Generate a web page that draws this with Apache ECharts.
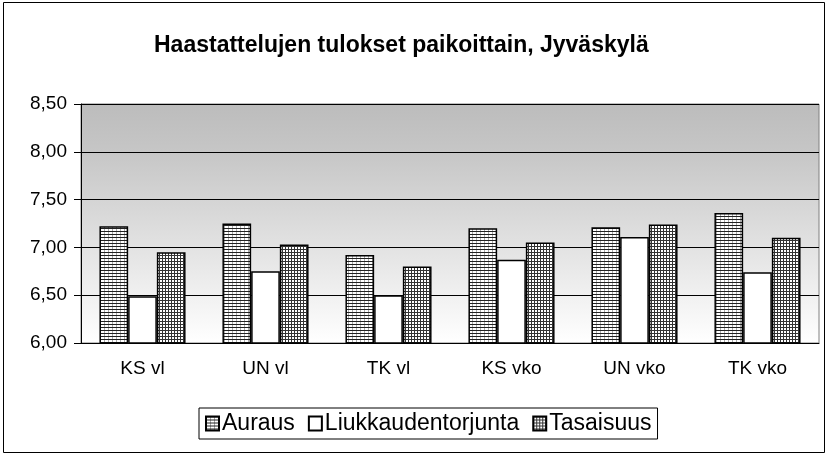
<!DOCTYPE html>
<html>
<head>
<meta charset="utf-8">
<script src="https://cdn.jsdelivr.net/npm/echarts@6/dist/echarts.min.js"></script>
<style>
  html, body { margin: 0; padding: 0; background: #fff; }
  #chart { width: 828px; height: 456px; }
</style>
</head>
<body>
<div id="chart"></div>
<script>
// data
var categories = ['KS vl', 'UN vl', 'TK vl', 'KS vko', 'UN vko', 'TK vko'];
var auraus = [7.22, 7.25, 6.92, 7.20, 7.21, 7.36];
var liukkaudentorjunta = [6.49, 6.75, 6.50, 6.87, 7.11, 6.74];
var tasaisuus = [6.95, 7.03, 6.80, 7.05, 7.24, 7.10];
var yTicks = [6, 6.5, 7, 7.5, 8, 8.5];

// small fill patterns like the old office chart
function stripes () {
  var c = document.createElement('canvas');
  c.width = 4; c.height = 3;
  var g = c.getContext('2d');
  g.fillStyle = '#fff'; g.fillRect(0, 0, 4, 3);
  g.fillStyle = '#aaa'; g.fillRect(0, 0, 1, 3);
  g.fillStyle = '#222'; g.fillRect(0, 0, 4, 1);
  return c;
}
function grid3 () {
  var c = document.createElement('canvas');
  c.width = 3; c.height = 3;
  var g = c.getContext('2d');
  g.fillStyle = '#fff'; g.fillRect(0, 0, 3, 3);
  g.fillStyle = '#333'; g.fillRect(0, 0, 3, 1);
  g.fillRect(0, 0, 1, 3);
  return c;
}

var font = '"Liberation Sans", Arial, sans-serif';
var chart = echarts.init(document.getElementById('chart'), null, { renderer: 'canvas' });

function bar (name, data, color) {
  return {
    name: name,
    type: 'bar',
    data: data,
    barGap: '0%',
    barCategoryGap: '30%',
    itemStyle: { color: color, borderColor: '#000', borderWidth: 1.5 }
  };
}

chart.setOption({
  animation: false,
  backgroundColor: '#fff',
  title: {
    text: 'Haastattelujen tulokset paikoittain, Jyväskylä',
    left: 149,
    top: 29,
    textStyle: { fontFamily: font, fontSize: 23, fontWeight: 'bold', color: '#000' }
  },
  graphic: [{
    type: 'rect',
    shape: { x: 3.5, y: 2.5, width: 821, height: 450 },
    style: { fill: 'none', stroke: '#000', lineWidth: 1 },
    silent: true
  }],
  grid: {
    left: 81, right: 9, top: 104, bottom: 113,
    show: true,
    borderColor: '#808080',
    borderWidth: 1,
    backgroundColor: {
      type: 'linear', x: 0, y: 0, x2: 0, y2: 1,
      colorStops: [
        { offset: 0, color: '#bcbcbc' },
        { offset: 0.2, color: '#c6c6c6' },
        { offset: 1, color: '#ffffff' }
      ]
    }
  },
  legend: {
    left: 199,
    top: 408,
    icon: 'rect',
    itemWidth: 13,
    itemHeight: 14,
    itemGap: 13,
    padding: [4, 6],
    borderColor: '#000',
    borderWidth: 1,
    textStyle: { fontFamily: font, fontSize: 23, color: '#000', padding: [0, 0, 0, -2] },
    data: ['Auraus', 'Liukkaudentorjunta', 'Tasaisuus']
  },
  xAxis: {
    type: 'category',
    data: categories,
    axisLine: { lineStyle: { color: '#000', width: 1 } },
    axisTick: { length: 7, lineStyle: { color: '#000' } },
    axisLabel: { margin: 16, fontFamily: font, fontSize: 19, color: '#000' }
  },
  yAxis: {
    type: 'value',
    min: yTicks[0],
    max: yTicks[yTicks.length - 1],
    interval: 0.5,
    axisLine: { show: true, lineStyle: { color: '#000' } },
    axisTick: { show: true, length: 7, lineStyle: { color: '#000' } },
    splitLine: { lineStyle: { color: '#000', width: 1 } },
    axisLabel: {
      margin: 14,
      fontFamily: font, fontSize: 19, color: '#000',
      formatter: function (v) { return v.toFixed(2).replace('.', ','); }
    }
  },
  series: [
    bar('Auraus', auraus, { image: stripes(), repeat: 'repeat' }),
    bar('Liukkaudentorjunta', liukkaudentorjunta, '#fff'),
    bar('Tasaisuus', tasaisuus, { image: grid3(), repeat: 'repeat' })
  ]
});
</script>
</body>
</html>
